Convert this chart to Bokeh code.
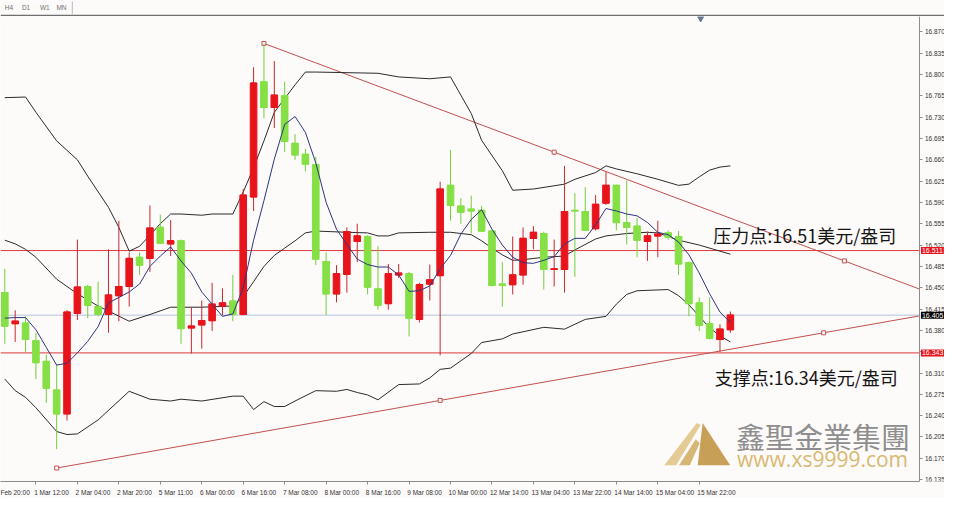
from bokeh.plotting import figure
from bokeh.models import Range1d, FixedTicker, ColumnDataSource, Label, NumeralTickFormatter, LinearAxis
from bokeh.layouts import column
from bokeh.embed import file_html
from bokeh.resources import INLINE
from bokeh.core.properties import value

# ---------------- data ----------------
opens = [16.442, 16.391, 16.392, 16.363, 16.329, 16.282, 16.243, 16.408, 16.452, 16.419,
         16.406, 16.437, 16.452, 16.500, 16.498, 16.549, 16.522, 16.527, 16.384, 16.389,
         16.396, 16.420, 16.428, 16.406, 16.599, 16.788, 16.746, 16.765, 16.687, 16.669,
         16.652, 16.493, 16.440, 16.472, 16.526, 16.534, 16.448, 16.424, 16.471, 16.473,
         16.398, 16.456, 16.470, 16.618, 16.584, 16.579, 16.577, 16.543, 16.456, 16.455,
         16.471, 16.531, 16.539, 16.480, 16.480, 16.577, 16.575, 16.547, 16.589, 16.618,
         16.557, 16.551, 16.526, 16.535, 16.540, 16.534, 16.491, 16.425, 16.391, 16.365,
         16.381]
highs = [16.481, 16.413, 16.403, 16.376, 16.340, 16.324, 16.413, 16.529, 16.455, 16.460,
         16.513, 16.560, 16.508, 16.508, 16.585, 16.570, 16.561, 16.529, 16.418, 16.429,
         16.458, 16.449, 16.471, 16.612, 16.812, 16.851, 16.822, 16.788, 16.702, 16.678,
         16.665, 16.508, 16.487, 16.549, 16.555, 16.536, 16.518, 16.489, 16.489, 16.476,
         16.458, 16.488, 16.624, 16.676, 16.597, 16.601, 16.584, 16.545, 16.492, 16.534,
         16.549, 16.551, 16.542, 16.529, 16.650, 16.605, 16.615, 16.602, 16.641, 16.619,
         16.626, 16.564, 16.542, 16.560, 16.544, 16.543, 16.493, 16.434, 16.434, 16.390,
         16.411]
lows = [16.358, 16.361, 16.345, 16.300, 16.261, 16.185, 16.232, 16.397, 16.400, 16.403,
        16.376, 16.395, 16.419, 16.471, 16.476, 16.522, 16.502, 16.358, 16.342, 16.350,
        16.379, 16.405, 16.395, 16.405, 16.576, 16.728, 16.712, 16.673, 16.660, 16.641,
        16.487, 16.405, 16.426, 16.442, 16.492, 16.439, 16.414, 16.414, 16.466, 16.370,
        16.393, 16.429, 16.339, 16.560, 16.555, 16.539, 16.542, 16.452, 16.419, 16.439,
        16.455, 16.513, 16.447, 16.452, 16.442, 16.468, 16.543, 16.544, 16.586, 16.544,
        16.521, 16.500, 16.494, 16.500, 16.529, 16.471, 16.403, 16.379, 16.365, 16.345,
        16.376]
closes = [16.387, 16.395, 16.365, 16.327, 16.285, 16.243, 16.410, 16.451, 16.421, 16.406,
          16.438, 16.452, 16.498, 16.487, 16.548, 16.523, 16.527, 16.383, 16.387, 16.396,
          16.423, 16.425, 16.406, 16.602, 16.786, 16.746, 16.766, 16.690, 16.668, 16.653,
          16.497, 16.440, 16.473, 16.542, 16.535, 16.451, 16.421, 16.473, 16.474, 16.400,
          16.455, 16.463, 16.612, 16.585, 16.574, 16.576, 16.543, 16.454, 16.454, 16.471,
          16.531, 16.541, 16.480, 16.481, 16.575, 16.576, 16.544, 16.587, 16.618, 16.557,
          16.549, 16.528, 16.535, 16.538, 16.533, 16.489, 16.424, 16.388, 16.367, 16.382,
          16.405]
ma_line = [16.400, 16.401, 16.401, 16.381, 16.352, 16.323, 16.326, 16.343, 16.362, 16.386,
           16.425, 16.434, 16.443, 16.456, 16.485, 16.502, 16.517, 16.494, 16.474, 16.443,
           16.423, 16.403, 16.407, 16.450, 16.528, 16.593, 16.661, 16.718, 16.731, 16.705,
           16.655, 16.590, 16.546, 16.521, 16.497, 16.488, 16.484, 16.484, 16.471, 16.444,
           16.445, 16.453, 16.481, 16.503, 16.538, 16.562, 16.578, 16.546, 16.520, 16.500,
           16.491, 16.490, 16.495, 16.501, 16.522, 16.531, 16.531, 16.553, 16.580, 16.576,
           16.571, 16.568, 16.557, 16.541, 16.537, 16.525, 16.504, 16.474, 16.440, 16.410,
           16.393]
ub_bars = [0, 2, 3, 5, 7, 8, 10, 11, 12, 13, 14, 15, 16, 17, 19, 20, 22, 23, 24, 25,
           26, 28, 29, 30, 36, 38, 41, 43, 45, 46, 48, 49, 51, 54, 55, 57, 58, 59, 61, 63,
           65, 66, 67, 68, 69, 70]
ub_vals = [16.762, 16.763, 16.738, 16.691, 16.660, 16.633, 16.582, 16.549, 16.510, 16.518,
           16.536, 16.555, 16.571, 16.571, 16.569, 16.571, 16.571, 16.607, 16.647, 16.691,
           16.738, 16.783, 16.804, 16.804, 16.802, 16.796, 16.793, 16.796, 16.736, 16.692,
           16.642, 16.610, 16.612, 16.620, 16.628, 16.639, 16.650, 16.645, 16.637, 16.628,
           16.618, 16.620, 16.632, 16.643, 16.648, 16.650]
mb_bars = [0, 1, 2, 3, 5, 7, 9, 12, 14, 16, 19, 22, 23, 24, 25, 26, 27, 28, 29, 30,
           33, 35, 36, 37, 38, 41, 43, 45, 46, 47, 48, 49, 50, 52, 54, 55, 57, 58, 60, 62,
           63, 65, 67, 69, 70]
mb_vals = [16.528, 16.522, 16.513, 16.500, 16.464, 16.440, 16.420, 16.395, 16.406, 16.418,
           16.418, 16.420, 16.435, 16.460, 16.485, 16.503, 16.515, 16.527, 16.540, 16.543,
           16.541, 16.540, 16.535, 16.535, 16.540, 16.541, 16.541, 16.537, 16.527, 16.515,
           16.504, 16.495, 16.496, 16.500, 16.502, 16.512, 16.530, 16.535, 16.539, 16.541,
           16.540, 16.528, 16.520, 16.510, 16.505]
lb_bars = [0, 1, 2, 3, 5, 6, 7, 9, 12, 14, 16, 17, 19, 22, 23, 24, 25, 26, 27, 28,
           30, 32, 33, 34, 35, 36, 38, 40, 41, 42, 43, 45, 46, 48, 49, 52, 54, 56, 58, 59,
           60, 61, 64, 65, 66, 67, 68, 69, 70]
lb_vals = [16.300, 16.281, 16.270, 16.253, 16.214, 16.209, 16.210, 16.233, 16.280, 16.267,
           16.264, 16.267, 16.264, 16.272, 16.272, 16.250, 16.263, 16.255, 16.255, 16.264,
           16.281, 16.280, 16.283, 16.278, 16.274, 16.266, 16.291, 16.292, 16.302, 16.316,
           16.318, 16.342, 16.360, 16.366, 16.374, 16.385, 16.382, 16.398, 16.403, 16.423,
           16.439, 16.445, 16.447, 16.437, 16.422, 16.403, 16.384, 16.371, 16.361]
price_ticks = [16.135, 16.170, 16.205, 16.240, 16.275, 16.310, 16.345, 16.380, 16.415, 16.450,
               16.485, 16.520, 16.555, 16.590, 16.625, 16.660, 16.695, 16.730, 16.765, 16.800,
               16.835, 16.870]
time_tick_bars = [-1, 3, 7, 11, 15, 19, 23, 27, 31, 35, 39, 43, 47, 51, 55, 59, 63, 67]
time_tick_labels = ["Feb 20:00", "1 Mar 12:00", "2 Mar 04:00", "2 Mar 20:00", "5 Mar 11:00",
                    "6 Mar 00:00", "6 Mar 16:00", "7 Mar 08:00", "8 Mar 00:00", "8 Mar 16:00",
                    "9 Mar 08:00", "10 Mar 00:00", "12 Mar 14:00", "13 Mar 04:00", "13 Mar 22:00",
                    "14 Mar 14:00", "15 Mar 04:00", "15 Mar 22:00"]
tab_labels = ["H4", "D1", "W1", "MN"]
resistance = 16.511
support = 16.343
last_price = 16.405
res_anchor_bars = [25, 81]
res_anchor_prices = [16.851, 16.494]
sup_anchor_bars = [5, 79]
sup_anchor_prices = [16.154, 16.376]
resistance_text = "压力点:16.51美元/盎司"
support_text = "支撑点:16.34美元/盎司"
brand_name = "鑫聖金業集團"
brand_url = "www.xs9999.com"

# ---------------- layout / style ----------------
W = 944
STRIP_H = 16
MAIN_H = 482
X0 = -0.417          # left edge of the chart window (bar units)
X_SCALE = 88.29      # where the price scale starts
X_END = 90.66        # right edge of the window (price-scale area included)
Y0, Y1 = 16.1319, 16.8952
BG = "#fdfafa"
RED, RED_WICK = "#e8141c", "#c52a2e"
GREEN, GREEN_WICK = "#84e044", "#72cf3b"
BAND = "#2b2b2b"
MA_COL = "#2e3580"
TREND = "#c0504d"
LEVEL = "#e0393b"
BID = "#b3c3db"
AX = "#8c8c8c"
TICK_FONT = "6.5px"


def ref_to_data(rx, ry):
    # convert a position of the reference screenshot to chart coordinates (decorations only)
    return (rx - 4.4) / 10.54, 16.870 - (ry - 33) / 635.4


# ---------------- top tab strip ----------------
top = figure(width=W, height=STRIP_H, x_range=Range1d(0, 960), y_range=Range1d(16.5, 0),
             output_backend="svg", toolbar_location=None, x_axis_location=None, y_axis_location=None,
             min_border=0, background_fill_color=BG, border_fill_color=BG, outline_line_color=None)
top.grid.visible = False
top.text(x=[8.5, 26, 45, 62], y=[7.5] * 4, text=tab_labels, text_font=value("Liberation Sans"),
         text_font_size="6.5px", text_color="#707070", text_align="center", text_baseline="middle")
top.segment(x0=[73], y0=[1], x1=[73], y1=[14], line_color="#b8b8b8", line_width=1)
top.segment(x0=[0], y0=[15.6], x1=[960], y1=[15.6], line_color="#6f6f6f", line_width=1.6)

# ---------------- main chart ----------------
p = figure(width=W, height=MAIN_H, x_range=Range1d(X0, X_END), y_range=Range1d(Y0, Y1),
           output_backend="svg", toolbar_location=None, x_axis_location="below", y_axis_location=None,
           min_border_left=0, min_border_right=0, min_border_top=0, min_border_bottom=12,
           background_fill_color=BG, border_fill_color=BG, outline_line_color=None)
p.xgrid.grid_line_color = None
p.ygrid.grid_line_color = None

# price scale: a right axis pinned at the chart's right edge
yax = LinearAxis(fixed_location=X_SCALE, ticker=FixedTicker(ticks=price_ticks),
                 formatter=NumeralTickFormatter(format="0.000"))
yax.major_label_overrides = {16.345: ""}
yax.major_label_text_font = "Liberation Sans"
yax.major_label_text_font_size = TICK_FONT
yax.major_label_text_color = "#333333"
yax.major_label_standoff = 2
yax.major_tick_out = 3
yax.major_tick_in = 0
yax.minor_tick_line_color = None
yax.axis_line_color = AX
yax.major_tick_line_color = AX
p.add_layout(yax, "right")

# bottom time axis: labels start at the tick (MT4 style)
CHAR_EM = {c: 0.556 for c in "0123456789"}
CHAR_EM.update({" ": 0.278, ":": 0.278, "M": 0.833, "a": 0.556, "r": 0.333, "F": 0.611, "e": 0.556, "b": 0.556})
px_per_bar = W / (X_END - X0)
label_centers = [b + (0.5 + sum(CHAR_EM.get(ch, 0.55) for ch in lbl) * 6.5 * 0.87 / 2) / px_per_bar
                 for b, lbl in zip(time_tick_bars, time_tick_labels)]
xax = p.xaxis[0]
xax.bounds = (X0, X_SCALE)
xax.ticker = FixedTicker(ticks=label_centers, minor_ticks=time_tick_bars)
xax.major_label_overrides = {c: lbl for c, lbl in zip(label_centers, time_tick_labels)}
xax.major_label_text_font = "Liberation Sans"
xax.major_label_text_font_size = TICK_FONT
xax.major_label_text_color = "#333333"
xax.major_tick_line_color = None
xax.major_tick_out = 0
xax.major_tick_in = 0
xax.major_label_standoff = 4
xax.minor_tick_out = 3
xax.minor_tick_in = 0
xax.minor_tick_line_color = AX
xax.axis_line_color = AX

# level lines (stop at the price scale)
p.segment(x0=[X0] * 3, x1=[X_SCALE] * 3, y0=[last_price, resistance, support],
          y1=[last_price, resistance, support], line_color=[BID, LEVEL, LEVEL], line_width=1)


# trend lines (rays to the price scale)
def ray(bx, py):
    slope = (py[1] - py[0]) / (bx[1] - bx[0])
    return [bx[0], X_SCALE], [py[0], py[0] + slope * (X_SCALE - bx[0])]


for bx, py in ((res_anchor_bars, res_anchor_prices), (sup_anchor_bars, sup_anchor_prices)):
    rx, ry = ray(bx, py)
    p.line(rx, ry, line_color=TREND, line_width=1)
    mx = [bx[0], (bx[0] + bx[1]) / 2, bx[1]]
    my = [py[0], (py[0] + py[1]) / 2, py[1]]
    p.scatter(mx, my, marker="square", size=4, fill_color=BG, line_color=TREND, line_width=1)

# Bollinger bands
p.line(ub_bars, ub_vals, line_color=BAND, line_width=1)
p.line(mb_bars, mb_vals, line_color=BAND, line_width=1)
p.line(lb_bars, lb_vals, line_color=BAND, line_width=1)

# candles (red = up, green = down)
bars = list(range(len(opens)))
up = [c >= o for o, c in zip(opens, closes)]
src = ColumnDataSource(dict(
    x=bars, high=highs, low=lows,
    top=[max(o, c) for o, c in zip(opens, closes)],
    bottom=[min(o, c) for o, c in zip(opens, closes)],
    open=opens, close=closes,
    xl=[b - 0.32 for b in bars], xr=[b + 0.32 for b in bars],
    body=[RED if u else GREEN for u in up],
    wick=[RED_WICK if u else GREEN_WICK for u in up],
))
p.segment(x0="x", y0="high", x1="x", y1="low", source=src, line_color="wick", line_width=1)
p.vbar(x="x", width=0.64, top="top", bottom="bottom", source=src, fill_color="body", line_color="body",
       line_width=1)
p.segment(x0="xl", y0="close", x1="xr", y1="close", source=src, line_color="body", line_width=1.2)
p.segment(x0="xl", y0="open", x1="xr", y1="open", source=src, line_color="body", line_width=1.2)

# moving average
p.line(bars, ma_line, line_color=MA_COL, line_width=1)

# MT4 chart-shift marker
sx, sy = ref_to_data(712, 19)
p.scatter([sx], [sy], marker="inverted_triangle", size=6, color="#6b7890")

# annotations
p.text(x=[68.35], y=[resistance + 0.026], text=[resistance_text], text_font=value("Noto Sans CJK SC"),
       text_font_size="18px", text_color="#151515", text_baseline="middle", text_align="left")
p.text(x=[68.5], y=[support - 0.040], text=[support_text], text_font=value("Noto Sans CJK SC"),
       text_font_size="18px", text_color="#151515", text_baseline="middle", text_align="left")

# price-scale markers for the levels
for lvl, col in ((resistance, "#e8141c"), (last_price, "#000000"), (support, "#e8141c")):
    p.add_layout(Label(x=X_SCALE, y=lvl, x_offset=1, text=f"{lvl:.3f}", text_font="Liberation Sans",
                       text_font_size="7px", text_color="white", text_baseline="middle",
                       text_align="left", background_fill_color=col, padding=1))

# watermark logo
pieces = [
    ([(675, 485), (687, 485), (712, 443), (708, 441)], "#e4cb93"),
    ([(690, 485), (701, 485), (711, 462), (707, 458)], "#d6b775"),
    ([(709, 485), (742, 485), (714, 441)], "#c89f57"),
]
for pts, col in pieces:
    xs, ys = zip(*[ref_to_data(a, b) for a, b in pts])
    p.patch(list(xs), list(ys), fill_color=col, line_color=None)
bx, by = ref_to_data(748, 455)
p.text(x=[bx], y=[by], text=[brand_name], text_font=value("Noto Sans CJK TC"), text_font_size="29px",
       text_color="#8e8e8e", text_baseline="middle", text_align="left")
ux, uy = ref_to_data(749, 479)
p.text(x=[ux], y=[uy], text=[brand_url], text_font=value("Open Sans"), text_font_size="21px",
       text_color="#d9b96f", text_baseline="middle", text_align="left")

layout = column(top, p, spacing=0)
open("out.html", "w").write(file_html(layout, INLINE))
